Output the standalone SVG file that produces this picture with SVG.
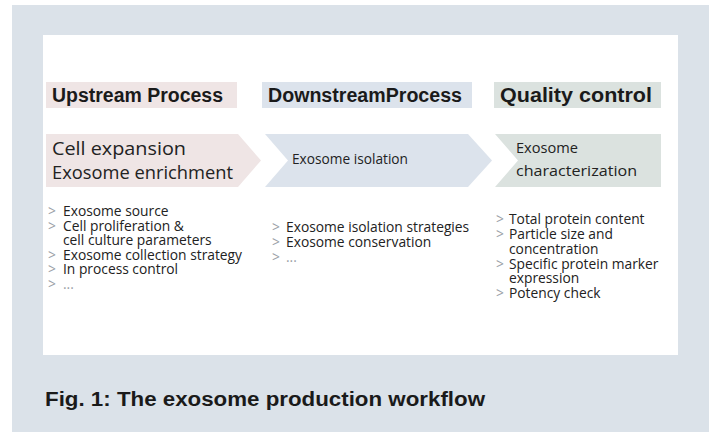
<svg xmlns="http://www.w3.org/2000/svg" width="713" height="432" viewBox="0 0 713 432">
  <style>
    .hdr { font-family: "Liberation Sans", Arial, sans-serif; font-weight: bold; font-size: 19.5px; fill: #1a1a1a; }
    .step { font-family: "Open Sans", "Liberation Sans", sans-serif; fill: #222; }
    .item { font-family: "Open Sans", "Liberation Sans", sans-serif; font-size: 13.8px; fill: #222; }
    .mark { fill: #9aa0a6; }
    .cap { font-family: "Liberation Sans", Arial, sans-serif; font-weight: bold; font-size: 20px; fill: #1a1a1a; }
  </style>

  <!-- frame -->
  <rect x="12" y="5" width="697" height="427" fill="#dbe2e9"/>
  <rect x="43" y="35" width="635" height="320" fill="#ffffff"/>

  <!-- phase headers -->
  <g id="hdr-upstream">
    <rect x="46" y="82" width="191" height="26" fill="#efe5e5"/>
    <text class="hdr" x="52" y="102" textLength="171" lengthAdjust="spacingAndGlyphs">Upstream Process</text>
  </g>
  <g id="hdr-downstream">
    <rect x="262" y="82" width="210" height="26" fill="#dce3ec"/>
    <text class="hdr" x="268" y="102" textLength="194" lengthAdjust="spacingAndGlyphs">DownstreamProcess</text>
  </g>
  <g id="hdr-quality">
    <rect x="494" y="82" width="167" height="26" fill="#dbe2df"/>
    <text class="hdr" x="500" y="102" textLength="152" lengthAdjust="spacingAndGlyphs">Quality control</text>
  </g>

  <!-- process arrows -->
  <g id="step-upstream">
    <path d="M46,134 H238 L261,160.5 L238,187 H46 Z" fill="#efe5e5"/>
    <text class="step" font-size="18" x="52" y="155" textLength="134" lengthAdjust="spacingAndGlyphs">Cell expansion</text>
    <text class="step" font-size="18" x="52" y="179" textLength="181" lengthAdjust="spacingAndGlyphs">Exosome enrichment</text>
  </g>
  <g id="step-downstream">
    <path d="M265,134 H468 L492,160.5 L468,187 H265 L288,160.5 Z" fill="#dce3ec"/>
    <text class="step" font-size="15" x="292" y="164" textLength="116" lengthAdjust="spacingAndGlyphs">Exosome isolation</text>
  </g>
  <g id="step-quality">
    <path d="M495,134 H661 V187 H495 L518,160.5 Z" fill="#dbe2df"/>
    <text class="step" font-size="15" x="516" y="153" textLength="62" lengthAdjust="spacingAndGlyphs">Exosome</text>
    <text class="step" font-size="15" x="516" y="176" textLength="121" lengthAdjust="spacingAndGlyphs">characterization</text>
  </g>

  <!-- detail lists: grey chevron marks, then the item text -->
  <g id="list-upstream" class="item">
    <text class="mark" x="48" y="216">&gt;</text><text x="63" y="216">Exosome source</text>
    <text class="mark" x="48" y="231">&gt;</text><text x="63" y="231">Cell proliferation &amp;</text>
    <text x="63" y="245">cell culture parameters</text>
    <text class="mark" x="48" y="260">&gt;</text><text x="63" y="260">Exosome collection strategy</text>
    <text class="mark" x="48" y="274">&gt;</text><text x="63" y="274">In process control</text>
    <text class="mark" x="48" y="289">&gt;</text><text class="mark" x="63" y="289">...</text>
  </g>
  <g id="list-downstream" class="item">
    <text class="mark" x="272" y="232">&gt;</text><text x="286" y="232">Exosome isolation strategies</text>
    <text class="mark" x="272" y="247">&gt;</text><text x="286" y="247">Exosome conservation</text>
    <text class="mark" x="272" y="262">&gt;</text><text class="mark" x="286" y="262">...</text>
  </g>
  <g id="list-quality" class="item">
    <text class="mark" x="496" y="224">&gt;</text><text x="509" y="224">Total protein content</text>
    <text class="mark" x="496" y="239">&gt;</text><text x="509" y="239">Particle size and</text>
    <text x="509" y="254">concentration</text>
    <text class="mark" x="496" y="269">&gt;</text><text x="509" y="269">Specific protein marker</text>
    <text x="509" y="283">expression</text>
    <text class="mark" x="496" y="298">&gt;</text><text x="509" y="298">Potency check</text>
  </g>

  <!-- caption -->
  <text class="cap" x="45" y="406" textLength="440" lengthAdjust="spacingAndGlyphs">Fig. 1: The exosome production workflow</text>
</svg>
